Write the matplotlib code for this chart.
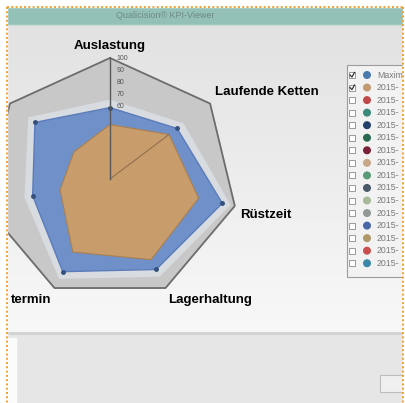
import numpy as np
import matplotlib
matplotlib.use("Agg")
import matplotlib.pyplot as plt
import matplotlib.transforms as mtransforms
from matplotlib.patches import Rectangle, Circle
from matplotlib.colors import LinearSegmentedColormap

plt.rcParams['font.family'] = ['Liberation Sans', 'DejaVu Sans']

# radar data (axes clockwise from the top); labels as far as the screenshot shows them
kpis = ["Auslastung", "Laufende Ketten", "R\u00fcstzeit", "Lagerhaltung", "termin", "", ""]
maximum = [59, 67, 90, 83, 85, 62, 75]
current = [45, 59, 71, 74, 67, 40, 36]
scale_ticks = [100, 90, 80, 70, 60]

# legend list on the right (cut off by the screenshot edge)
legend_names = ["Maxim"] + ["2015-"] * 15
legend_colors = ["#4a7ab0", "#c09a70", "#c04848", "#3a8a78", "#22406a", "#2a6a50",
                 "#7a2038", "#c8a888", "#5a9a78", "#4a5a68", "#a8b898", "#909898",
                 "#4868a8", "#b09868", "#c85050", "#3a88a8"]
legend_checked = [True, True] + [False] * 14

W, H = 405, 403
fig = plt.figure(figsize=(W / 100, H / 100), dpi=100)
fig.patch.set_facecolor("white")

# window background (pixel coordinates)
bg = fig.add_axes([0, 0, 1, 1])
grad = np.linspace(0, 1, 200).reshape(-1, 1)
cm = LinearSegmentedColormap.from_list("panel", ["#e2e2e2", "#f8f8f8"])
bg.imshow(grad, extent=[7, W, 333, 24], cmap=cm, aspect="auto", zorder=0)
bg.add_patch(Rectangle((7, 7), W, 17, color="#93c1b7", zorder=1))
bg.plot([7, W], [24.5, 24.5], color="#c9dcd8", lw=1, zorder=1)
bg.text(165, 16, "Qualicision\u00ae KPI-Viewer", fontsize=6.5, color="#6f8a85",
        ha="center", va="center", zorder=2)
bg.add_patch(Rectangle((7, 333), W, 70, color="#e6e6e6", zorder=1))
bg.plot([7, W], [333, 333], color="#d2d2d2", lw=2, zorder=1)
bg.add_patch(Rectangle((7, 338), 9, 65, color="#fbfbfb", zorder=1))
bg.add_patch(Rectangle((380, 375), 30, 17, fc="#f0f0f0", ec="#bdbdbd", lw=0.8, zorder=2))

# legend box
bg.add_patch(Rectangle((347, 65), 70, 212, fc="#f2f2f2", ec="#9c9c9c", lw=0.8, zorder=2))
for i, (name, col, chk) in enumerate(zip(legend_names, legend_colors, legend_checked)):
    y = 75 + i * 12.55
    bg.add_patch(Rectangle((349, y - 3), 6, 6, fc="white", ec="#8a8a8a", lw=0.6, zorder=3))
    if chk:
        bg.plot([350, 352, 354.5], [y, y + 2, y - 2.5], color="#333333", lw=0.9, zorder=4)
    bg.add_patch(Circle((367, y), 3.3, color=col, zorder=3))
    bg.text(377, y, name, fontsize=6.3, color="#7a7a7a", va="center", ha="left", zorder=3)

# axis labels of the radar
bg.text(110, 46, kpis[0], fontsize=9.5, fontweight="bold", ha="center", va="center", zorder=3)
bg.text(215, 92, kpis[1], fontsize=9.5, fontweight="bold", ha="left", va="center", zorder=3)
bg.text(240, 215, kpis[2], fontsize=9.5, fontweight="bold", ha="left", va="center", zorder=3)
bg.text(168, 300, kpis[3], fontsize=9.5, fontweight="bold", ha="left", va="center", zorder=3)
bg.text(51, 300, kpis[4], fontsize=9.5, fontweight="bold", ha="right", va="center", zorder=3)
bg.set_xlim(0, W)
bg.set_ylim(H, 0)
bg.axis("off")

# radar chart
cx, cy, rx, ry = 110, 179, 128, 121
ax = fig.add_axes([(cx - rx) / W, (H - cy - ry) / H, 2 * rx / W, 2 * ry / H], projection="polar")
ax.set_aspect("auto")
ax.set_theta_zero_location("N")
ax.set_theta_direction(-1)
theta = np.linspace(0, 2 * np.pi, len(kpis), endpoint=False)
th = np.append(theta, theta[0])
mx = np.append(maximum, maximum[0])
cu = np.append(current, current[0])
full = np.full(len(th), 100)

ax.fill(th, full, color="#c8c8c8", zorder=1, clip_on=False)
ax.plot(th, full, color="#6d6d6d", lw=1.3, zorder=2, clip_on=False)
ax.fill(th, mx + 6, color="#d8dbdf", zorder=2)
off = mtransforms.offset_copy(ax.transData, fig=fig, x=5, y=0, units="points")
for t in scale_ticks:
    ax.text(0, t, str(t), transform=off, fontsize=5, color="#555555",
            ha="left", va="center", zorder=3)
ax.fill(th, mx, fc="#7090ca", ec="#5b7cba", lw=1, zorder=4)
ax.plot(theta, maximum, "o", ms=2.5, color="#34507c", zorder=5)
ax.fill(th, cu, fc="#c89d6b", ec="#a88050", lw=0.8, zorder=6)
ax.plot([theta[1], theta[1]], [0, current[1]], color="#8a6a48", lw=0.7, zorder=7)
ax.plot([0, 0], [0, 100], color="#5a5a5a", lw=1, zorder=7, clip_on=False)
ax.set_ylim(0, 100)
ax.axis("off")

# overlay: white margins and orange dotted frame
ov = fig.add_axes([0, 0, 1, 1], zorder=10)
ov.patch.set_alpha(0)
ov.add_patch(Rectangle((0, 0), 7, H, color="white"))
ov.add_patch(Rectangle((0, 0), W, 7, color="white"))
ov.add_patch(Rectangle((403, 0), 5, H, color="white"))
dot = dict(color="#f3a02c", lw=1.4, dashes=(1, 1.2))
ov.plot([7, 7], [7, H], **dot)
ov.plot([7, 403], [7, 7], **dot)
ov.plot([403, 403], [7, H], **dot)
ov.set_xlim(0, W)
ov.set_ylim(H, 0)
ov.axis("off")

fig.savefig("out.png", dpi=100)
